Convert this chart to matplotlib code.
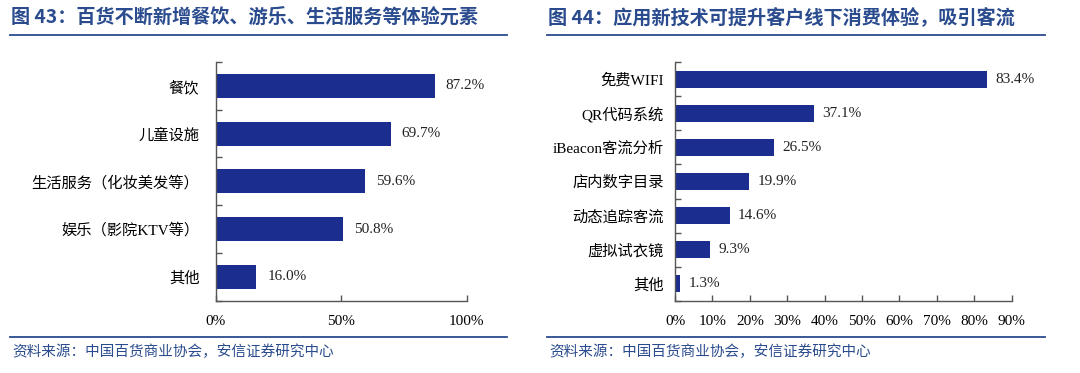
import numpy as np
import matplotlib
matplotlib.use("Agg")
import matplotlib.pyplot as plt

# ======================
# DATA
# ======================

left_cats = ["餐饮", "儿童设施", "生活服务（化妆美发等）", "娱乐（影院KTV等）", "其他"]
left_vals = [87.2, 69.7, 59.6, 50.8, 16.0]
left_ticks = [0, 50, 100]

right_cats = ["免费WIFI", "QR代码系统", "iBeacon客流分析", "店内数字目录",
              "动态追踪客流", "虚拟试衣镜", "其他"]
right_vals = [83.4, 37.1, 26.5, 19.9, 14.6, 9.3, 1.3]
right_ticks = [0, 10, 20, 30, 40, 50, 60, 70, 80, 90]

left_title = "图 43：百货不断新增餐饮、游乐、生活服务等体验元素"
right_title = "图 44：应用新技术可提升客户线下消费体验，吸引客流"
source = "资料来源：中国百货商业协会，安信证券研究中心"

# ======================
# STYLE
# ======================

BAR = "#1b2d8e"
TITLE = "#2a4b8d"
LINE = "#2a4b8d"
SERIF = ["Liberation Serif", "Noto Sans CJK SC"]
CJK = ["Noto Sans CJK SC", "DejaVu Sans"]

W, H = 1080, 373
fig = plt.figure(figsize=(W / 100, H / 100), dpi=100)
fig.patch.set_facecolor("white")


def px_axes(x0, x1, ytop, ybot):
    return fig.add_axes([x0 / W, 1 - ybot / H, (x1 - x0) / W, (ybot - ytop) / H])


def draw_panel(ax, cats, vals, ticks, xmax, pad, lab_pad):
    n = len(cats)
    y = np.arange(n)
    bars = ax.barh(y, vals, height=0.5, color=BAR)
    ax.set_ylim(n - 0.5, -0.5)
    ax.set_xlim(0, xmax)

    # boundary ticks on the spine, labels at centers
    ax.set_yticks(np.arange(n + 1) - 0.5)
    ax.set_yticklabels([])
    ax.set_yticks(y, minor=True)
    ax.set_yticklabels(cats, minor=True, family=SERIF, fontsize=11)
    ax.tick_params(axis="y", which="major", direction="in", length=4,
                   color="#555555", width=1)
    ax.tick_params(axis="y", which="minor", length=0, pad=lab_pad)

    ax.set_xticks(ticks)
    ax.set_xticklabels([f"{t}%" for t in ticks], family=SERIF, fontsize=11)
    ax.tick_params(axis="x", direction="in", length=4, color="#555555",
                   width=1, pad=10)

    for s in ("top", "right"):
        ax.spines[s].set_visible(False)
    for s in ("left", "bottom"):
        ax.spines[s].set_color("#555555")
        ax.spines[s].set_linewidth(1)

    ax.bar_label(bars, labels=[f"{v:.1f}%" for v in vals], padding=pad,
                 family=SERIF, fontsize=11, color="#222222")


ax1 = px_axes(216, 466.7, 62, 300.7)
draw_panel(ax1, left_cats, left_vals, left_ticks, 100, 8, 12)

ax2 = px_axes(675, 1011.7, 62, 301)
draw_panel(ax2, right_cats, right_vals, right_ticks, 90, 6, 8)

# ======================
# TITLES / SOURCE LINES
# ======================

for x0, x1, title in [(10, 507, left_title), (547, 1045, right_title)]:
    fig.text((x0 + 1) / W, 1 - 18 / H, title, family=CJK, fontsize=13.8,
             fontweight="bold", color=TITLE, va="center", ha="left")
    fig.add_artist(plt.Line2D([x0 / W, x1 / W], [1 - 35 / H, 1 - 35 / H],
                              color=LINE, linewidth=1.3))
    fig.add_artist(plt.Line2D([x0 / W, x1 / W], [1 - 337 / H, 1 - 337 / H],
                              color=LINE, linewidth=1.3))
    fig.text((x0 + 2) / W, 1 - 352 / H, source, family=CJK, fontsize=10.5,
             style="italic", color=TITLE, va="center", ha="left")

fig.savefig("out.png", dpi=100)
